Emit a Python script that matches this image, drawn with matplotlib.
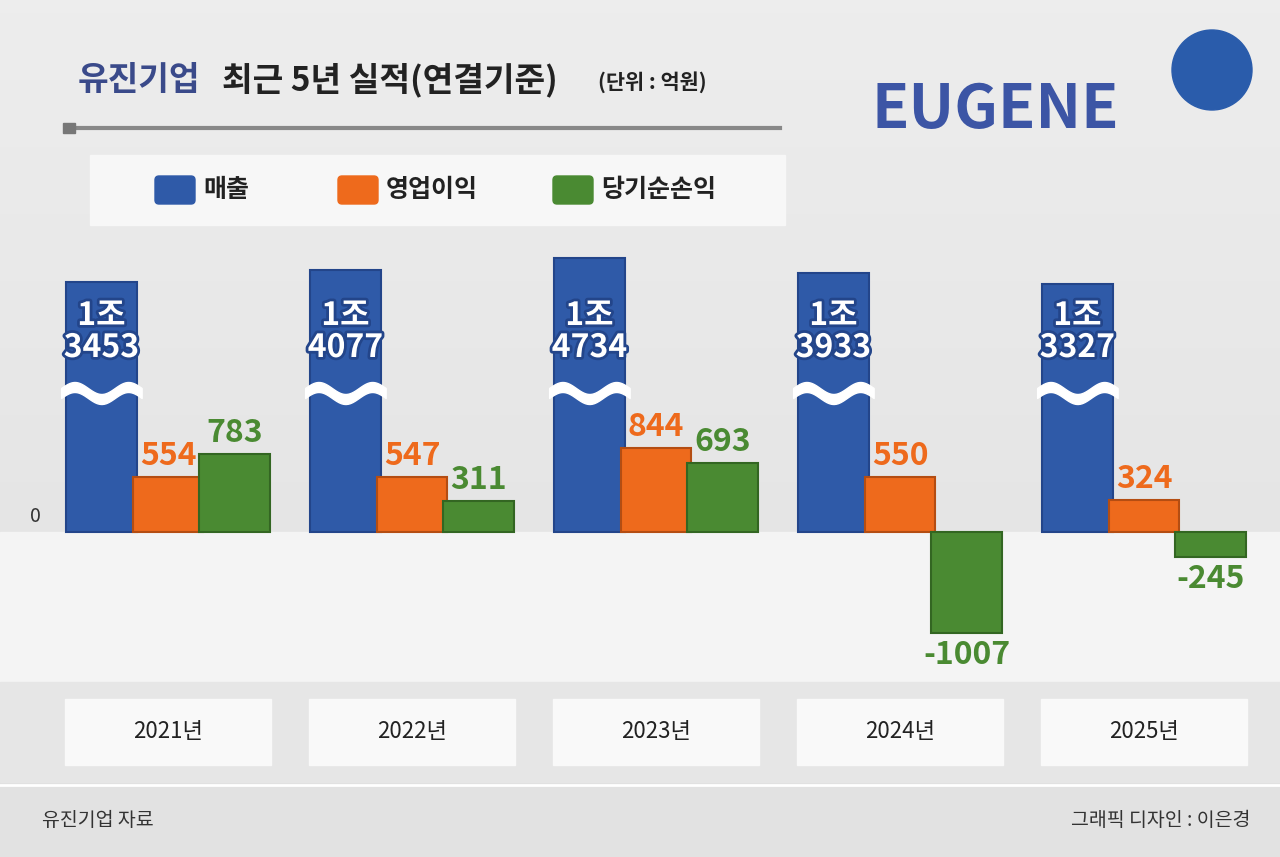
import matplotlib
matplotlib.use("Agg")
import matplotlib.pyplot as plt
import matplotlib.patheffects as pe
import numpy as np
from matplotlib.patches import Rectangle, FancyBboxPatch

plt.rcParams['font.family'] = ['Noto Sans CJK KR', 'DejaVu Sans']

years = ['2021년', '2022년', '2023년', '2024년', '2025년']
revenue = [13453, 14077, 14734, 13933, 13327]
revenue_labels = ['1조\n3453', '1조\n4077', '1조\n4734', '1조\n3933', '1조\n3327']
op_income = [554, 547, 844, 550, 324]
net_income = [783, 311, 693, -1007, -245]

BLUE, ORANGE, GREEN = '#2f5aa8', '#ee6a1c', '#4a8a32'

W, H = 1280, 857
fig = plt.figure(figsize=(W/100, H/100), dpi=100)
bg = fig.add_axes([0, 0, 1, 1]); bg.set_xlim(0, W); bg.set_ylim(H, 0); bg.axis('off')
grad = np.linspace(0, 1, 256).reshape(-1, 1)
bg.imshow(np.dstack([0.93 - 0.05*grad]*3), extent=[0, W, H, 0], aspect='auto')
bg.add_patch(Rectangle((0, 532), W, 150, color='#f4f4f4', zorder=1))
bg.add_patch(Rectangle((0, 682), W, 100, color='#e6e6e6', zorder=1))
bg.add_patch(Rectangle((0, 785), W, 72, color='#e2e2e2', zorder=1))
bg.plot([0, W], [785, 785], color='white', lw=2, zorder=2)
bg.text(78, 80, '유진기업', color='#3a4a8a', fontsize=24, fontweight='heavy', va='center')
bg.text(222, 80, '최근 5년 실적(연결기준)', color='#222', fontsize=24, fontweight='heavy', va='center')
bg.text(598, 82, '(단위 : 억원)', color='#222', fontsize=15, fontweight='bold', va='center')
bg.plot([70, 780], [128, 128], color='#888', lw=3, zorder=3)
bg.add_patch(Rectangle((63, 123), 12, 10, color='#777', zorder=4))
bg.text(995, 110, 'EUGENE', color='#3c55a5', fontsize=44, fontweight='heavy', ha='center', va='center', zorder=3)
bg.add_patch(plt.Circle((1212, 70), 40, color='#2a5cab', zorder=3))
bg.add_patch(Rectangle((90, 155), 695, 70, color='#f7f7f7', zorder=2))
for x, c, t in [(155, BLUE, '매출'), (338, ORANGE, '영업이익'), (553, GREEN, '당기순손익')]:
    bg.add_patch(FancyBboxPatch((x, 176), 40, 28, boxstyle='round,pad=0,rounding_size=4', color=c, zorder=3))
    bg.text(x+48, 190, t, fontsize=18, fontweight='bold', va='center', color='#222', zorder=3)
for i, y in enumerate(years):
    cx = 168 + 244*i
    bg.add_patch(Rectangle((cx-103, 699), 206, 66, color='#f9f9f9', zorder=2))
    bg.text(cx, 732, y, fontsize=16, ha='center', va='center', color='#222', zorder=3)
bg.text(42, 820, '유진기업 자료', fontsize=14, va='center', color='#333', zorder=3)
bg.text(1250, 820, '그래픽 디자인 : 이은경', fontsize=14, va='center', ha='right', color='#333', zorder=3)
bg.text(30, 517, '0', fontsize=14, va='center', color='#333', zorder=3)

ax = fig.add_axes([0, (H-680)/H, 1, (680-230)/H])
ax.patch.set_alpha(0); ax.axis('off')
ax.set_xlim(-168/244, (W-168)/244)
ax.set_ylim(-1480, 3020)
x = np.arange(5)
w = 0.29
rev_disp = [2500 + (v - 13453)*0.19 for v in revenue]
ax.bar(x - 0.273, rev_disp, w, color=BLUE, edgecolor='#23458a', lw=1.5)
ax.bar(x, op_income, w, color=ORANGE, edgecolor='#b44d12', lw=1.5)
ax.bar(x + 0.273, net_income, w, color=GREEN, edgecolor='#336622', lw=1.5)
for i in range(5):
    xs = np.linspace(i - 0.273 - w/2 - 0.02, i - 0.273 + w/2 + 0.02, 50)
    wave = 60*np.sin((xs - xs[0])/(xs[-1]-xs[0])*2*np.pi*1.5)
    ax.fill_between(xs, 1340 + wave, 1440 + wave, color='white', zorder=3)
    ax.text(i - 0.273, 2000, revenue_labels[i], ha='center', va='center', fontsize=23, fontweight='heavy',
            color='white', linespacing=1.0, zorder=4,
            path_effects=[pe.withStroke(linewidth=4, foreground='#23458a')])
    ax.text(i, op_income[i] + 50, f'{op_income[i]}', ha='center', va='bottom', fontsize=23,
            fontweight='heavy', color=ORANGE)
    n = net_income[i]
    ax.text(i + 0.273, n + 50 if n > 0 else n - 60, f'{n}', ha='center', va='bottom' if n > 0 else 'top',
            fontsize=23, fontweight='heavy', color=GREEN)
fig.savefig('out.png', dpi=100)
